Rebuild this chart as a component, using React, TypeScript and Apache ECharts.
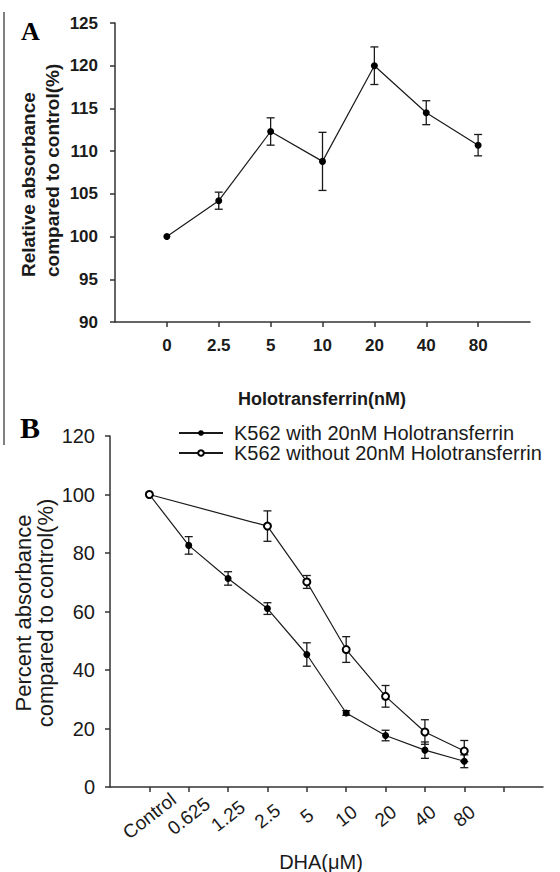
import React, { useEffect, useRef } from "react";
import * as echarts from "echarts";

// Panel A data
const aCategories = ["0", "2.5", "5", "10", "20", "40", "80"];
const aMeans = [100, 104.2, 112.3, 108.8, 120.0, 114.5, 110.7];
const aErrors = [0, 1.0, 1.6, 3.4, 2.2, 1.4, 1.25];

// Panel B data
const bCategories = ["Control", "0.625", "1.25", "2.5", "5", "10", "20", "40", "80"];
const bWithHolo = [100, 82.6, 71.3, 61.0, 45.3, 25.3, 17.6, 12.6, 8.8];
const bWithErr = [0, 3.0, 2.3, 2.0, 4.0, 0.8, 1.8, 2.8, 2.2];
const bWithoutHolo: (number | null)[] = [100, null, null, 89.2, 70.1, 47.0, 31.0, 18.8, 12.3];
const bWithoutErr: (number | null)[] = [0, null, null, 5.2, 2.2, 4.4, 3.7, 4.2, 3.6];

const seriesNames = ["K562 with 20nM Holotransferrin", "K562 without 20nM Holotransferrin"];

const FONT = "'Liberation Sans', Arial, sans-serif";
const SERIF = "'Liberation Serif', 'Times New Roman', serif";
const INK = "#1a1a1a";
const AXIS = "#333";

function errData(means: (number | null)[], errs: (number | null)[]) {
  const out: number[][] = [];
  means.forEach((m, i) => {
    const e = errs[i];
    if (m == null || e == null || e <= 0) return;
    out.push([i + 1, m - e, m + e]);
  });
  return out;
}

function pairData(vals: (number | null)[]) {
  const out: number[][] = [];
  vals.forEach((v, i) => {
    if (v != null) out.push([i + 1, v]);
  });
  return out;
}

const errRender = (params: any, api: any) => {
  const x = api.value(0);
  const lo = api.value(1);
  const hi = api.value(2);
  const pt = api.coord([x, hi]);
  const pb = api.coord([x, lo]);
  const w = 4;
  const style = { stroke: INK, lineWidth: 1.3 };
  return {
    type: "group",
    children: [
      { type: "line", shape: { x1: pt[0], y1: pt[1], x2: pb[0], y2: pb[1] }, style },
      { type: "line", shape: { x1: pt[0] - w, y1: pt[1], x2: pt[0] + w, y2: pt[1] }, style },
      { type: "line", shape: { x1: pb[0] - w, y1: pb[1], x2: pb[0] + w, y2: pb[1] }, style },
    ],
  };
};

export default function App() {
  const ref = useRef<HTMLDivElement>(null);
  useEffect(() => {
    if (!ref.current) return;
    const chart = echarts.init(ref.current, null, { renderer: "svg" });
    const aAxisData = ["", ...aCategories, ""];
    const bAxisData = ["", ...bCategories, "", ""];
    const option: any = {
      animation: false,
      backgroundColor: "#fff",
      textStyle: { fontFamily: FONT },
      grid: [
        { left: 115, top: 23, width: 415, height: 299 },
        { left: 110, top: 436, width: 433, height: 351 },
      ],
      xAxis: [
        {
          gridIndex: 0,
          type: "category",
          data: aAxisData,
          boundaryGap: false,
          axisLine: { lineStyle: { color: AXIS, width: 1.5 } },
          axisTick: {
            length: 5,
            interval: (i: number) => i > 0 && i < aAxisData.length - 1,
            lineStyle: { color: AXIS, width: 1.5 },
          },
          axisLabel: {
            interval: 0,
            margin: 15,
            fontSize: 17,
            fontWeight: "bold",
            color: INK,
            fontFamily: FONT,
          },
          splitLine: { show: false },
        },
        {
          gridIndex: 1,
          type: "category",
          data: bAxisData,
          boundaryGap: false,
          axisLine: { lineStyle: { color: AXIS, width: 1.5 } },
          axisTick: {
            length: 5,
            interval: (i: number) => i > 0 && i < bAxisData.length - 1,
            lineStyle: { color: AXIS, width: 1.5 },
          },
          axisLabel: {
            interval: 0,
            rotate: 38,
            align: "center",
            verticalAlign: "middle",
            margin: 29,
            fontSize: 19,
            color: INK,
            fontFamily: FONT,
          },
          splitLine: { show: false },
        },
      ],
      yAxis: [
        {
          gridIndex: 0,
          type: "value",
          min: 90,
          max: 125,
          interval: 5,
          axisLine: { show: true, lineStyle: { color: AXIS, width: 1.5 } },
          axisTick: { show: true, length: 5, lineStyle: { color: AXIS, width: 1.5 } },
          axisLabel: { margin: 17, fontSize: 17, fontWeight: "bold", color: INK, fontFamily: FONT },
          splitLine: { show: false },
        },
        {
          gridIndex: 1,
          type: "value",
          min: 0,
          max: 120,
          interval: 20,
          axisLine: { show: true, lineStyle: { color: AXIS, width: 1.5 } },
          axisTick: { show: true, length: 5, lineStyle: { color: AXIS, width: 1.5 } },
          axisLabel: { margin: 15, fontSize: 20, color: INK, fontFamily: FONT },
          splitLine: { show: false },
        },
      ],
      legend: {
        data: seriesNames,
        orient: "vertical",
        left: 178,
        top: 423,
        padding: 0,
        itemWidth: 44,
        itemHeight: 7,
        itemGap: 0,
        textStyle: { fontSize: 20, color: INK, fontFamily: FONT, lineHeight: 19, padding: [0, 0, 0, 6] },
      },
      graphic: [
        { type: "line", shape: { x1: 4, y1: 12, x2: 4, y2: 445 }, style: { stroke: "#808080", lineWidth: 2 } },
        { type: "text", x: 21, y: 31, style: { text: "A", font: `bold 26px ${SERIF}`, fill: "#000", textVerticalAlign: "middle" } },
        { type: "text", x: 20, y: 427, style: { text: "B", font: `bold 30px ${SERIF}`, fill: "#000", textVerticalAlign: "middle" } },
        {
          type: "text", x: 28, y: 277, rotation: Math.PI / 2,
          style: { text: "Relative absorbance", font: `bold 19px ${FONT}`, fill: INK, textAlign: "left", textVerticalAlign: "middle" },
        },
        {
          type: "text", x: 52, y: 277, rotation: Math.PI / 2,
          style: { text: "compared to control(%)", font: `bold 19px ${FONT}`, fill: INK, textAlign: "left", textVerticalAlign: "middle" },
        },
        {
          type: "text", x: 322, y: 399,
          style: { text: "Holotransferrin(nM)", font: `bold 18px ${FONT}`, fill: INK, textAlign: "center", textVerticalAlign: "middle" },
        },
        {
          type: "text", x: 23, y: 613, rotation: Math.PI / 2,
          style: { text: "Percent absorbance", font: `22px ${FONT}`, fill: INK, textAlign: "center", textVerticalAlign: "middle" },
        },
        {
          type: "text", x: 45, y: 613, rotation: Math.PI / 2,
          style: { text: "compared to control(%)", font: `22px ${FONT}`, fill: INK, textAlign: "center", textVerticalAlign: "middle" },
        },
        {
          type: "text", x: 321, y: 862,
          style: { text: "DHA(\u03bcM)", font: `20px ${FONT}`, fill: INK, textAlign: "center", textVerticalAlign: "middle" },
        },
      ],
      series: [
        {
          type: "custom",
          xAxisIndex: 0,
          yAxisIndex: 0,
          renderItem: errRender,
          data: errData(aMeans, aErrors),
          encode: { x: 0, y: [1, 2] },
          z: 1,
        },
        {
          type: "line",
          name: "Holotransferrin",
          xAxisIndex: 0,
          yAxisIndex: 0,
          data: pairData(aMeans),
          symbol: "circle",
          symbolSize: 7,
          lineStyle: { color: INK, width: 1.2 },
          itemStyle: { color: "#000" },
          z: 3,
        },
        {
          type: "custom",
          xAxisIndex: 1,
          yAxisIndex: 1,
          renderItem: errRender,
          data: errData(bWithHolo, bWithErr),
          encode: { x: 0, y: [1, 2] },
          z: 1,
        },
        {
          type: "custom",
          xAxisIndex: 1,
          yAxisIndex: 1,
          renderItem: errRender,
          data: errData(bWithoutHolo, bWithoutErr),
          encode: { x: 0, y: [1, 2] },
          z: 1,
        },
        {
          type: "line",
          name: seriesNames[0],
          xAxisIndex: 1,
          yAxisIndex: 1,
          data: pairData(bWithHolo),
          symbol: "circle",
          symbolSize: 7,
          lineStyle: { color: INK, width: 1.2 },
          itemStyle: { color: "#000" },
          z: 3,
        },
        {
          type: "line",
          name: seriesNames[1],
          xAxisIndex: 1,
          yAxisIndex: 1,
          data: pairData(bWithoutHolo),
          symbol: "emptyCircle",
          symbolSize: 7,
          lineStyle: { color: INK, width: 1.2 },
          itemStyle: { color: "#000", borderWidth: 1.1 },
          z: 3,
        },
      ],
    };
    chart.setOption(option);
    return () => chart.dispose();
  }, []);
  return (
    <div
      ref={ref}
      style={{ position: "absolute", left: 0, top: 0, width: 560, height: 872, background: "#fff" }}
    />
  );
}
